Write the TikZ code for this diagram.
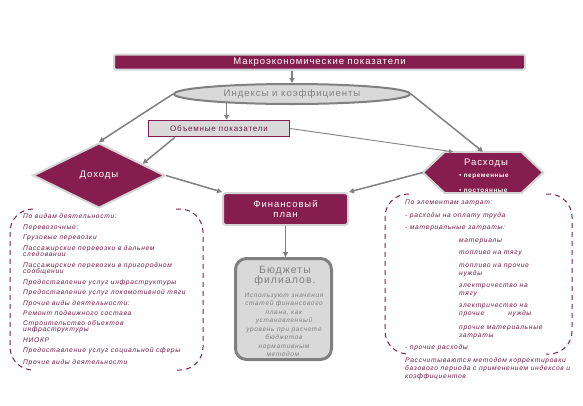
\documentclass[tikz,border=0pt]{standalone}
\usepackage{fontspec}
\setmainfont{Liberation Sans}[LetterSpace=10]
\newfontfamily\wideit{Liberation Sans}[LetterSpace=10]
\usetikzlibrary{arrows.meta,shapes.geometric}
\definecolor{maroon}{RGB}{133,29,78}
\definecolor{mtext}{RGB}{118,24,68}
\definecolor{lgray}{RGB}{217,217,217}
\definecolor{bgray}{RGB}{212,212,212}
\definecolor{dgray}{RGB}{128,128,128}
\tikzset{
  arr/.style={draw=dgray, line width=1.5pt, -{Triangle[length=5pt,width=5pt]}},
  thinarr/.style={draw=dgray, line width=0.9pt, -{Triangle[length=4pt,width=4pt]}},
  bracket/.style={draw=maroon, line width=1pt, dash pattern=on 5pt off 4pt, rounded corners=23pt},
  mbox/.style={fill=maroon, draw=bgray, line width=2pt, text=white, inner sep=0pt},
  listtext/.style={text=mtext, inner sep=0pt, align=left},
}
\begin{document}
\begin{tikzpicture}[x=1pt,y=-1pt]
\useasboundingbox (0,0) rectangle (583,405);

% dashed brackets
\draw[bracket] (33,209) -- (10,209) -- (10,370) -- (33,370);
\draw[bracket] (176,209) -- (203,209) -- (203,370) -- (176,370);
\draw[bracket] (409,194) -- (385,194) -- (385,354) -- (409,354);
\draw[bracket] (546,194) -- (572,194) -- (572,354) -- (546,354);

% nodes
\node[mbox, rounded corners=1.5pt, minimum width=411pt, minimum height=15pt,
      font=\fontsize{9.5}{10}\selectfont] (macro) at (319.5,62) {Макроэкономические показатели};
\node[ellipse, fill=lgray, draw=dgray, line width=2pt, minimum width=236pt, minimum height=20pt,
      inner sep=0pt, text=dgray, font=\fontsize{9.6}{10}\selectfont] (idx) at (292,94) {Индексы и коэффициенты};
\node[fill=lgray, draw=maroon, line width=1.5pt, minimum width=141pt, minimum height=16pt,
      inner sep=0pt, text=mtext, font=\fontsize{8}{9}\selectfont] (vol) at (219,128.5) {Объемные показатели};
\node[diamond, mbox, minimum width=132pt, minimum height=65pt,
      font=\fontsize{9.5}{10}\selectfont] (dox) at (99,175.5) {Доходы};
\node[minimum width=120pt, minimum height=41pt, inner sep=0pt] (rash) at (483,172.5) {};
\path[mbox] (rash.west) -- ([xshift=22pt]rash.north west) -- ([xshift=-22pt]rash.north east)
  -- (rash.east) -- ([xshift=-22pt]rash.south east) -- ([xshift=22pt]rash.south west) -- cycle;
\node[text=white, font=\fontsize{9.5}{10}\selectfont, inner sep=0pt] (rasht) at (486,163) {Расходы};
\node[text=white, font=\fontsize{6.3}{14.5}\selectfont\bfseries, inner sep=0pt, align=left, anchor=west] (rashb) at (459,183.5) {• переменные\\• постоянные};
\node[mbox, rounded corners=3pt, minimum width=125pt, minimum height=32pt, align=center,
      font=\fontsize{9.5}{9.5}\selectfont] (fin) at (285.5,209) {Финансовый\\план};
\node[fill=lgray, draw=dgray, line width=3pt, rounded corners=11pt, minimum width=96pt,
      minimum height=101pt, inner sep=0pt] (bud) at (283.5,309) {};
\node[text=dgray, font=\fontsize{10.5}{10.5}\selectfont, align=center, inner sep=0pt] (budt) at (285,276) {Бюджеты\\филиалов.};
\node[text=dgray, font=\fontsize{6.5}{8.5}\selectfont\itshape, align=center, inner sep=0pt] (budx) at (284,325)
  {Используют значения\\статей финансового\\плана, как\\установленный\\уровень при расчете\\бюджетов\\нормативным\\методом.};

% lists
\node[listtext, anchor=north west, font=\fontsize{6.7}{6.5}\selectfont\wideit\itshape] (ldox) at (23,213.5)
  {По видам деятельности:\\[4pt]
   Перевозочные:\\[4pt]
   Грузовые перевозки\\[4pt]
   Пассажирские перевозки в дальнем\\
   следовании\\[4pt]
   Пассажирские перевозки в пригородном\\
   сообщении\\[4.2pt]
   Предоставление услуг инфраструктуры\\[4pt]
   Предоставление услуг локомотивной тяги\\[4pt]
   Прочие виды деятельности:\\[4pt]
   Ремонт подвижного состава\\[3pt]
   Строительство объектов\\
   инфраструктуры\\[4pt]
   НИОКР\\[4pt]
   Предоставление услуг социальной сферы\\[5pt]
   Прочие виды деятельности};
\node[listtext, anchor=north west, font=\fontsize{6.7}{8}\selectfont\wideit\itshape] (lrash) at (405,199.5)
  {По элементам затрат:\\[5pt]
   - расходы на оплату труда\\[4pt]
   - материальные затраты:\\[5pt]
   \hspace*{54pt}материалы\\[4pt]
   \hspace*{54pt}топливо на тягу\\[5pt]
   \hspace*{54pt}топливо на прочие\\
   \hspace*{54pt}нужды\\[4pt]
   \hspace*{54pt}электричество на\\
   \hspace*{54pt}тягу\\[4pt]
   \hspace*{54pt}электричество на\\
   \hspace*{54pt}прочие\hspace*{24pt}нужды\\[6pt]
   \hspace*{54pt}прочие материальные\\
   \hspace*{54pt}затраты\\[4pt]
   - прочие расходы\\[5pt]
   Рассчитываются методом корректировки\\
   базового периода с применением индексов и\\
   коэффициентов};

% connectors
\draw[arr] (macro.south -| idx.north) -- (idx.north);
\draw[arr] (idx.188.5) -- (idx.188.5 |- vol.north);
\draw[arr] (idx.west) -- (dox.north);
\draw[arr] (idx.east) -- (rash.north);
\draw[arr] ([xshift=-44pt]vol.south) -- (dox.15);
\draw[thinarr] (vol.east) -- ([xshift=-30pt]rash.north);
\draw[arr] (dox.east) -- (fin.north west);
\draw[arr] (rash.west) -- (fin.north east);
\draw[arr] (fin.south) -- (fin.south |- bud.north);
\end{tikzpicture}
\end{document}
